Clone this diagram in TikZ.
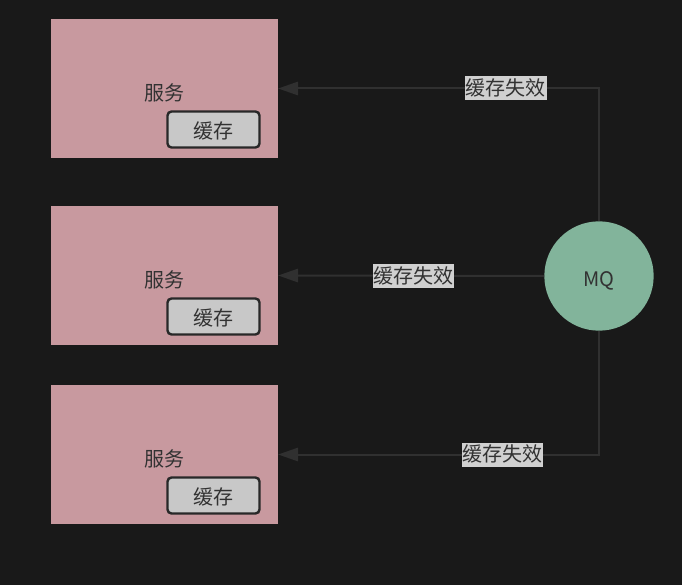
\documentclass[tikz,border=0pt]{standalone}
\usepackage{fontspec}
\setmainfont{Noto Sans CJK SC}
\usepackage{tikz}
\usetikzlibrary{arrows.meta,positioning,calc}
\definecolor{bgdark}{RGB}{25,25,25}
\definecolor{svcpink}{RGB}{200,153,159}
\definecolor{cachegrey}{RGB}{200,200,200}
\definecolor{edgedark}{RGB}{40,40,40}
\definecolor{mqgreen}{RGB}{130,180,155}
\definecolor{wiregrey}{RGB}{48,48,48}
\definecolor{textdark}{RGB}{50,50,50}
\definecolor{lblgrey}{RGB}{208,208,208}
\tikzset{
  base/.style={font=\fontsize{15pt}{17pt}\selectfont, align=center, inner sep=0pt, text=textdark},
  svc/.style={base, rectangle, fill=svcpink, minimum width=170pt, minimum height=104pt, text height=19pt},
  cache/.style={base, rectangle, rounded corners=3pt, draw=edgedark, fill=cachegrey, line width=1.8pt, minimum width=69pt, minimum height=27pt, text height=15pt},
  mqnode/.style={base, circle, fill=mqgreen, minimum size=82pt, text height=18pt},
  arr/.style={-{Triangle[length=15pt,width=10pt]}, line width=1.5pt, draw=wiregrey},
  lbl/.style={base, fill=lblgrey, inner sep=0.5pt, text height=14pt, text depth=3pt},
}
\begin{document}
\begin{tikzpicture}[x=0.75pt,y=-0.75pt]
  \fill[bgdark] (0,0) rectangle (682,585);
  \useasboundingbox (0,0) rectangle (682,585);
  \foreach \i/\y in {1/88.5,2/275.5,3/454.5}{
    \node[svc] (svc\i) at (164.5,\y) {服务};
    \node[cache] (cache\i) at (213.5,\y+41) {缓存};
  }
  \node[mqnode] (mq) at (599,276) {MQ};
  \draw[arr] (mq.north) |- (svc1.east) node[lbl,pos=0.645] {缓存失效};
  \draw[arr] (mq.west) -- (svc2.east) node[lbl,pos=0.49] {缓存失效};
  \draw[arr] (mq.south) |- (svc3.east) node[lbl,pos=0.65] {缓存失效};
\end{tikzpicture}
\end{document}
